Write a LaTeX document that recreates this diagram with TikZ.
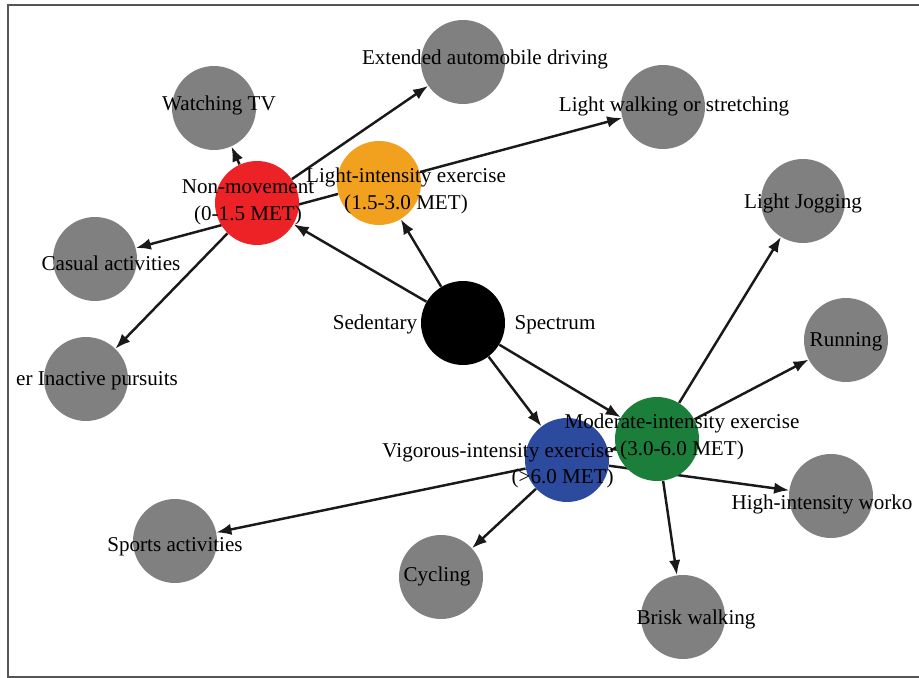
\documentclass[tikz,border=0pt]{standalone}
\usepackage{fontspec}
\setmainfont{Liberation Serif}
\usetikzlibrary{positioning,arrows.meta}
\pgfdeclarelayer{edges}
\pgfsetlayers{edges,main}
\definecolor{nmred}{HTML}{EC2227}
\definecolor{ltorange}{HTML}{F2A11F}
\definecolor{modgreen}{HTML}{1B7F3B}
\definecolor{vigblue}{HTML}{2C4A9E}
\definecolor{leafgray}{HTML}{808080}
\definecolor{framegray}{HTML}{555555}

\begin{document}
\begin{tikzpicture}[
    x=0.02cm, y=-0.02cm,
    act/.style={circle, minimum size=1.68cm, inner sep=0pt},
    leaf/.style={act, fill=leafgray},
    lbl/.style={font=\fontsize{12}{15.3}\selectfont, align=center,
                inner sep=0pt, yshift=-1pt},
    arr/.style={-{Latex[length=8.5pt,width=6.5pt]}, line width=1.4pt,
                draw=black!90},
  ]
  \useasboundingbox (0,0) rectangle (919,678);

  % frame (right side cut off)
  \draw[framegray, line width=1.1pt] (919,5) -- (8,5) -- (8,677) -- (919,677);

  % centre and the four intensity levels
  \node[act, fill=black] (sed) at (463,323) {};
  \node[act, fill=nmred] (nonmov) at (257,203) {};
  \node[act, fill=ltorange] (light) at (379,183) {};
  \node[act, fill=modgreen] (moder) at (657,439) {};
  \node[act, fill=vigblue] (vig) at (567,460) {};

  % activities
  \node[leaf] (tv) at (214,108) {};
  \node[leaf] (drive) at (463,62) {};
  \node[leaf] (walk) at (663,107) {};
  \node[leaf] (casual) at (95,259) {};
  \node[leaf] (inactive) at (86,379) {};
  \node[leaf] (jog) at (803,201) {};
  \node[leaf] (run) at (846,340) {};
  \node[leaf] (hiit) at (831,496) {};
  \node[leaf] (sports) at (175,541) {};
  \node[leaf] (cycle) at (441,577) {};
  \node[leaf] (brisk) at (683,617) {};

  % connectors go underneath the circles
  \begin{pgfonlayer}{edges}
    \draw[arr] (sed) -- (nonmov);
    \draw[arr] (sed) -- (light);
    \draw[arr] (sed) -- (moder);
    \draw[arr] (sed) -- (vig);

    \draw[arr] (nonmov) -- (tv);
    \draw[arr] (nonmov) -- (drive);
    \draw[arr] (nonmov) -- (inactive);
    \draw[arr] (light) -- (casual);
    \draw[arr] (light) -- (walk);

    \draw[arr] (moder) -- (jog);
    \draw[arr] (moder) -- (run);
    \draw[arr] (moder) -- (brisk);
    \draw[arr] (moder) -- (vig);

    \draw[arr] (vig) -- (hiit);
    \draw[arr] (vig) -- (sports);
    \draw[arr] (vig) -- (cycle);
  \end{pgfonlayer}

  % labels on top
  \node[lbl] (sedlbl1) at (375,323) {Sedentary};
  \node[lbl] (sedlbl2) at (555,323) {Spectrum};
  \node[lbl] (nonmovlbl) at (248,201) {Non-movement\\(0-1.5 MET)};
  \node[lbl] (lightlbl) at (406,189) {Light-intensity exercise\\(1.5-3.0 MET)};
  \node[lbl] (moderlbl) at (682,435) {Moderate-intensity exercise\\(3.0-6.0 MET)};
  \node[lbl, align=right, anchor=east] (viglbl) at (614,464)
    {Vigorous-intensity exercise\\(>6.0 MET)};

  \node[lbl] (tvlbl) at (219,104) {Watching TV};
  \node[lbl] (drivelbl) at (485,58) {Extended automobile driving};
  \node[lbl] (walklbl) at (674,105) {Light walking or stretching};
  \node[lbl] (casuallbl) at (111,262) {Casual activities};
  \node[lbl] (inactivelbl) at (97,379) {er Inactive pursuits};
  \node[lbl] (joglbl) at (803,202) {Light Jogging};
  \node[lbl] (runlbl) at (846,340) {Running};
  \node[lbl] (hiitlbl) at (822,503) {High-intensity worko};
  \node[lbl] (sportslbl) at (175,545) {Sports activities};
  \node[lbl] (cyclelbl) at (437,575) {Cycling};
  \node[lbl] (brisklbl) at (696,618) {Brisk walking};
\end{tikzpicture}
\end{document}
